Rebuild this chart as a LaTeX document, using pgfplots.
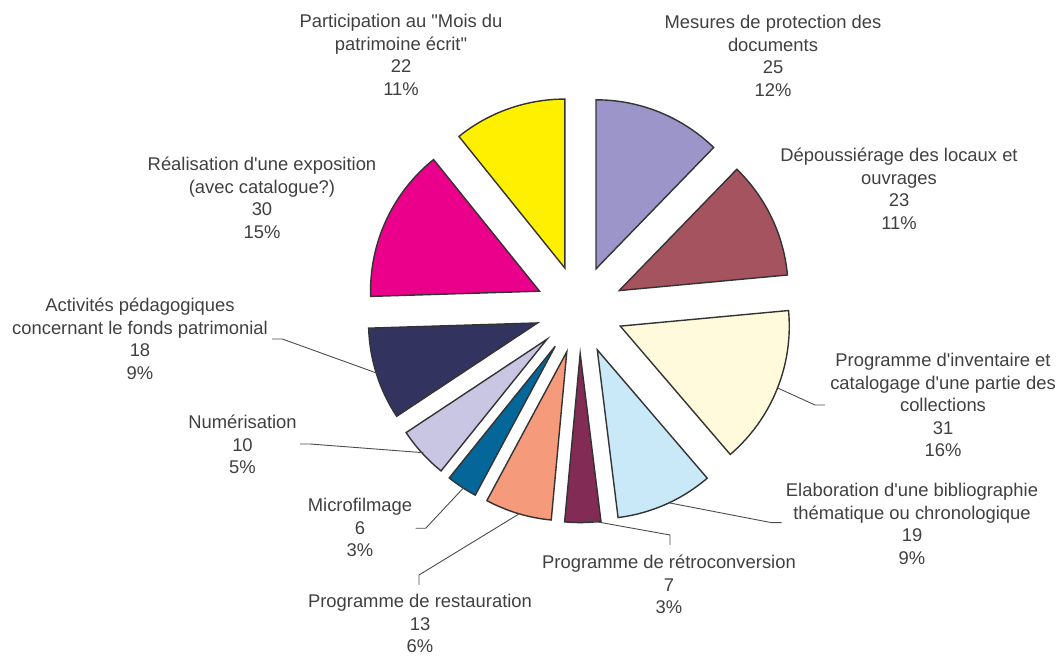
\documentclass[border=0pt]{standalone}
\usepackage{pgfplots}
\pgfplotsset{compat=1.18}
\usepackage{fontspec}
\setmainfont{Liberation Sans}[Ligatures=TeXOff]
\definecolor{cMes}{HTML}{9B95C9}
\definecolor{cDep}{HTML}{A5535F}
\definecolor{cInv}{HTML}{FFFADB}
\definecolor{cEla}{HTML}{C9E9F8}
\definecolor{cRet}{HTML}{822B55}
\definecolor{cRes}{HTML}{F59A7B}
\definecolor{cMic}{HTML}{046699}
\definecolor{cNum}{HTML}{C8C6E3}
\definecolor{cAct}{HTML}{33335F}
\definecolor{cExp}{HTML}{EA008A}
\definecolor{cPar}{HTML}{FFF000}
\definecolor{txt}{HTML}{404040}
% #1 cumulative value before slice, #2 value, #3 colour ; total = 204
\newcommand{\pieslice}[3]{%
  \pgfmathsetmacro\aS{90-(#1)/204*360}%
  \pgfmathsetmacro\aE{90-(#1+#2)/204*360}%
  \pgfmathsetmacro\aM{(\aS+\aE)/2}%
  \pgfmathsetmacro\tx{579.5+44*cos(\aM)}%
  \pgfmathsetmacro\ty{347.4+44*sin(\aM)}%
  \edef\tmp{\noexpand\filldraw[fill=#3,draw=black!80,line width=1.4bp,line join=miter]
    (axis cs:\tx,\ty) -- ++(\aS:169bp) arc[start angle=\aS,end angle=\aE,radius=169bp] -- cycle;}%
  \tmp}
\tikzset{lbl/.style={font=\fontsize{18.4bp}{22.5bp}\selectfont,align=center,inner sep=0pt,anchor=north,text=txt},
  lead/.style={draw=black!70,line width=0.9bp}}
\begin{document}
\begin{tikzpicture}
\begin{axis}[x=1bp,y=1bp,xmin=0,xmax=1061,ymin=0,ymax=657,hide axis,clip=false]
\path (axis cs:0,0) rectangle (axis cs:1061,657);
\pieslice{0}{25}{cMes}
\pieslice{25}{23}{cDep}
\pieslice{48}{31}{cInv}
\pieslice{79}{19}{cEla}
\pieslice{98}{7}{cRet}
\pieslice{105}{13}{cRes}
\pieslice{118}{6}{cMic}
\pieslice{124}{10}{cNum}
\pieslice{134}{18}{cAct}
\pieslice{152}{30}{cExp}
\pieslice{182}{22}{cPar}
\draw[lead] (axis cs:778.3,268.7) -- (axis cs:815,252) -- (axis cs:825,252);
\draw[lead] (axis cs:668.3,154.3) -- (axis cs:771.7,134.3) -- (axis cs:781.7,134.3);
\draw[lead] (axis cs:586.7,137) -- (axis cs:670,122) -- (axis cs:670,112);
\draw[lead] (axis cs:520,143.7) -- (axis cs:419,82) -- (axis cs:419,72);
\draw[lead] (axis cs:464,169.7) -- (axis cs:425.7,128.7) -- (axis cs:415.7,128.7);
\draw[lead] (axis cs:423.3,204.3) -- (axis cs:310,213) -- (axis cs:300,213);
\draw[lead] (axis cs:377.3,283.7) -- (axis cs:282.3,318) -- (axis cs:272,318);
\node[lbl] at (axis cs:773,642) {Mesures de protection des\\documents\\25\\12\%};
\node[lbl] at (axis cs:899,509) {Dépoussiérage des locaux et\\ouvrages\\23\\11\%};
\node[lbl] at (axis cs:943,304) {Programme d'inventaire et\\catalogage d'une partie des\\collections\\31\\16\%};
\node[lbl] at (axis cs:912,174) {Elaboration d'une bibliographie\\thématique ou chronologique\\19\\9\%};
\node[lbl] at (axis cs:669,102) {Programme de rétroconversion\\7\\3\%};
\node[lbl] at (axis cs:420,63) {Programme de restauration\\13\\6\%};
\node[lbl] at (axis cs:360,159) {Microfilmage\\6\\3\%};
\node[lbl] at (axis cs:242.5,242) {Numérisation\\10\\5\%};
\node[lbl] at (axis cs:140,359) {Activités pédagogiques\\concernant le fonds patrimonial\\18\\9\%};
\node[lbl] at (axis cs:262,500) {Réalisation d'une exposition\\(avec catalogue?)\\30\\15\%};
\node[lbl] at (axis cs:401,643) {Participation au "Mois du\\patrimoine écrit"\\22\\11\%};
\end{axis}
\end{tikzpicture}
\end{document}
